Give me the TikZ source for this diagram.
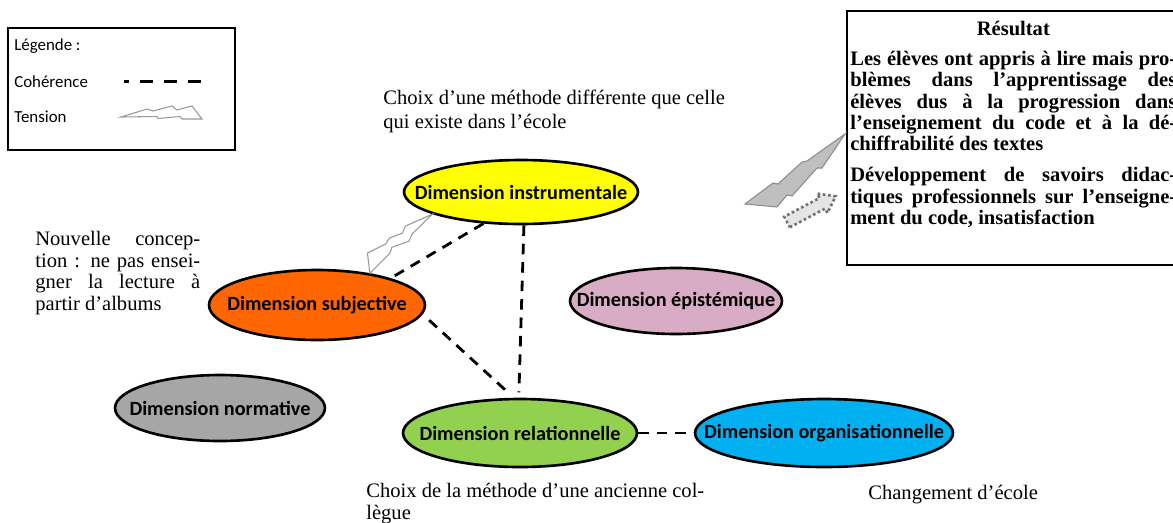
\documentclass[tikz,border=0pt]{standalone}
\usepackage{fontspec}
\setmainfont{Liberation Serif}
\newfontfamily\calibri{Carlito}
\usetikzlibrary{shapes.geometric}

\definecolor{jauneDim}{RGB}{255,255,0}
\definecolor{orangeDim}{RGB}{255,102,0}
\definecolor{roseDim}{RGB}{216,172,196}
\definecolor{grisDim}{RGB}{166,166,166}
\definecolor{vertDim}{RGB}{146,208,80}
\definecolor{bleuDim}{RGB}{0,176,240}

\begin{document}
\begin{tikzpicture}[x=0.02cm, y=-0.02cm,
	dim/.style={ellipse, draw, line width=1.5pt, inner xsep=-40pt, inner ysep=-4pt,
		font=\calibri\bfseries\fontsize{11.5}{13}\selectfont},
	coherence/.style={line width=1.6pt, dash pattern=on 6pt off 4.5pt},
	eclair/.style={draw=gray!80, line width=0.6pt, fill=white, line join=miter},
	legende/.style={inner sep=0pt, anchor=base west, font=\calibri\fontsize{9.6}{11}\selectfont},
	texte/.style={inner sep=0pt, anchor=north west, font=\fontsize{11.7}{12.3}\selectfont}]
	\useasboundingbox (0,0) rectangle (1173,522);
	\clip (0,0) rectangle (1173,522);
	\fill[white] (0,0) rectangle (1173,522);

	% légende
	\draw[line width=0.6pt] (8,28) rectangle (235,150);
	\node[legende] (Lg) at (14,50) {Légende :};
	\node[legende] (Lc) at (14,87) {Cohérence};
	\node[legende] (Lt) at (14,122) {Tension};
	\draw[line width=1.7pt, dash pattern=on 7.4pt off 6.2pt, dash phase=4.5pt] (124,81) -- (202,81);
	\draw[eclair] (121,117) -- (147,109) -- (153,111) -- (172,106) -- (177,110) -- (192,106)
		-- (202,119) -- (182,119) -- (180,116.5) -- (158,118.5) -- (157,116.5) -- cycle;

	% dimensions
	\node[dim, fill=jauneDim, minimum width=4.68cm, minimum height=1.28cm] (I) at (521,192)
	{Dimension instrumentale};
	\node[dim, fill=orangeDim, minimum width=4.32cm, minimum height=1.40cm] (S) at (317,305)
	{Dimension subjective};
	\node[dim, fill=roseDim, minimum width=4.24cm, minimum height=1.32cm] (E) at (676,301)
	{Dimension épistémique};
	\node[dim, fill=grisDim, minimum width=4.2cm, minimum height=1.32cm] (N) at (220,408)
	{Dimension normative};
	\node[dim, fill=vertDim, minimum width=4.68cm, minimum height=1.36cm] (R) at (520,433)
	{Dimension relationnelle};
	\node[dim, fill=bleuDim, minimum width=5.16cm, minimum height=1.36cm] (O) at (824,433)
	{Dimension organisationnelle};

	% textes
	\node[texte, align=left, font=\fontsize{11.7}{13.6}\selectfont] (Tmeth) at (383,90)
	{Choix d’une méthode différente que celle\\qui existe dans l’école};
	\node[texte, text width=3.3cm, align=justify] (Tconc) at (35,231)
	{Nouvelle concep-\linebreak tion : ne pas ensei-\linebreak gner la lecture à\linebreak partir d’albums};
	\node[texte, align=left] (Tcoll) at (366,483)
	{Choix de la méthode d’une ancienne col-\\lègue};
	\node[texte] (Tecole) at (868,485)
	{Changement d’école};

	% résultat
	\draw[line width=1.4pt] (847,11) rectangle (1190,265);
	\node[texte, text width=6.52cm, align=justify, font=\bfseries\fontsize{11.7}{12.1}\selectfont] (Res) at (850,21)
	{{\centering Résultat\par}\vspace{5pt}
	Les élèves ont appris à lire mais pro-\linebreak blèmes dans l’apprentissage des\linebreak élèves dus à la progression dans\linebreak l’enseignement du code et à la dé-\linebreak chiffrabilité des textes\par\vspace{5.7pt}
	Développement de savoirs didac-\linebreak tiques professionnels sur l’enseigne-\linebreak ment du code, insatisfaction};

	% cohérences
	\draw[coherence] (I.220) -- (S.20);
	\draw[coherence, shorten <=5pt, shorten >=3pt] (S.355) -- (R.100);
	\draw[coherence, shorten >=3pt] (I.275) -- (R.92);
	\draw[coherence] (R.east) -- (O.west);

	% tensions
	\draw[eclair] (I.194) -- +(-27,12) -- +(-30,19) -- +(-43,24) -- +(-47,30) -- +(-65,39)
		-- (S.31) -- +(20,-20) -- +(22,-26) -- +(39,-32) -- +(42,-39) -- cycle;
	\draw[draw=gray!90, fill=gray!50, line width=0.6pt] (745,204) -- (773,183) -- (778,184) -- (802,162)
		-- (807,161) -- (845,134) -- (822,168) -- (817,168) -- (792,196) -- (787,195) -- (777,207) -- cycle;
	\draw[draw=black!55, fill=gray!20, line width=1.5pt, dash pattern=on 1.5pt off 1.5pt]
		(789.8,227.3) -- (825.1,208.6) -- (827.5,213.0) -- (835.6,196.3) -- (817.1,193.6) -- (819.5,198.0)
		-- (784.2,216.7) -- cycle;
\end{tikzpicture}
\end{document}
